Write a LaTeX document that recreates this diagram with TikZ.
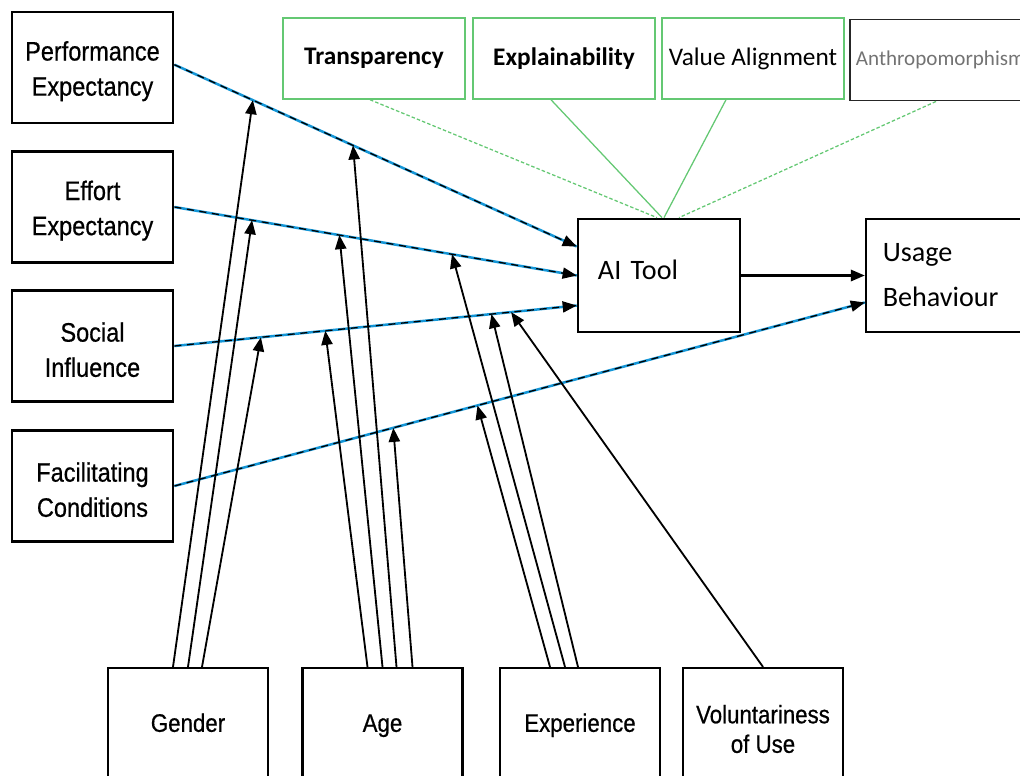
\documentclass[tikz,border=0pt]{standalone}
\usepackage{fontspec}
\usepackage{xcolor}
\usetikzlibrary{arrows.meta,calc}

\newfontfamily\arialn[FakeStretch=0.88,FakeBold=0.6]{Liberation Sans}
\newfontfamily\calib{Carlito}

\definecolor{linkblue}{RGB}{20,150,215}
\definecolor{framegreen}{RGB}{100,200,115}

\tikzset{
  construct/.style={draw, line width=1.8pt, minimum width=4.03cm, minimum height=2.78cm,
    inner sep=0pt, align=center, text height=44pt, font=\arialn\fontsize{19}{25}\selectfont},
  botbox/.style={draw, line width=1.5pt, minimum width=4cm, minimum height=3.05cm,
    inner sep=0pt, align=center, font=\arialn\fontsize{18}{21}\selectfont},
  moderator/.style={botbox, text height=13pt, text depth=9pt},
  factor/.style={draw=framegreen, line width=0.9pt, minimum width=4.55cm, minimum height=2.03cm,
    inner sep=0pt, font=\calib\fontsize{18}{22}\selectfont},
  outcome/.style={draw, line width=1.8pt, minimum height=2.83cm, inner ysep=0pt,
    align=left, font=\calib\fontsize{20}{32}\selectfont},
  mainpath/.style={->, draw=black, line width=0.9pt, dash pattern=on 5pt off 4pt,
    preaction={draw=linkblue, line width=1.8pt, solid, -}},
  modarrow/.style={->, line width=1.3pt},
  trustlink/.style={draw=framegreen, line width=0.9pt}
}

\begin{document}
\begin{tikzpicture}[x=0.025cm, y=-0.025cm, >={Triangle[length=10pt,width=8pt]}]
    \useasboundingbox (0,0) rectangle (1020,776);
    \clip (0,0) rectangle (1020,776);

    % Constructs on the left
    \node[construct] (PE) at (92.5,67.5) {Performance\\Expectancy};
    \node[construct] (EE) at (92.5,207) {Effort\\Expectancy};
    \node[construct] (SI) at (92.5,346) {Social\\Influence};
    \node[construct] (FC) at (92.5,486) {Facilitating\\Conditions};

    % Trust factors on top
    \node[factor, font=\calib\bfseries\fontsize{18}{22}\selectfont] (TR) at (374,58.5) {Transparency};
    \node[factor, font=\calib\bfseries\fontsize{18}{22}\selectfont] (EX) at (564,58.5) {Explainability};
    \node[factor] (VA) at (753,58.5) {Value Alignment};
    \node[factor, draw=black!85, line width=1.2pt, minimum width=4.75cm, text width=4.45cm,
      align=left, text=black!55, font=\calib\fontsize{15}{18}\selectfont] (AN) at (945,60) {Anthropomorphism};

    % AI tool and outcome
    \node[outcome, text width=3.05cm, inner xsep=0.5cm, text depth=8pt] (AI) at (659,275.5) {AI Tool};
    \node[outcome, text width=3.63cm, inner xsep=0.42cm] (UB) at (955.5,275.5) {Usage\\Behaviour};

    % Moderators at the bottom
    \node[moderator] (G) at (188,729) {Gender};
    \node[moderator] (A) at (382.5,729) {Age};
    \node[moderator] (X) at (580,729) {Experience};
    \node[botbox] (V) at (763,729) {Voluntariness\\of Use};

    % End points on AI Tool and Usage Behaviour
    \coordinate (ai-pe) at ($(AI.west)+(0,-29)$);
    \coordinate (ai-ee) at (AI.west);
    \coordinate (ai-si) at ($(AI.west)+(0,30)$);
    \coordinate (ub-fc) at ($(UB.west)+(0,27)$);

    % Main paths
    \draw[mainpath] ([yshift=2pt]PE.east) -- (ai-pe);
    \draw[mainpath] (EE.east) -- (ai-ee);
    \draw[mainpath] (SI.east) -- (ai-si);
    \draw[mainpath] (FC.east) -- (ub-fc);
    \draw[->, line width=1.8pt] (AI.east) -- (UB.west);

    % Trust factors into AI Tool
    \draw[trustlink, dash pattern=on 2.5pt off 1.5pt] ($(TR.south)+(-4,0)$) -- ($(AI.north)+(-2,0)$);
    \draw[trustlink] ($(EX.south)+(-13,0)$) -- ($(AI.north)+(3,0)$);
    \draw[trustlink] ($(VA.south)+(-27,0)$) -- ($(AI.north)+(5,0)$);
    \draw[trustlink, dash pattern=on 2.5pt off 1.5pt] ($(AN.south)+(-9,0)$) -- ($(AI.north)+(20,0)$);

    % Points where moderators meet the paths
    \coordinate (pe-g) at ($([yshift=2pt]PE.east)!0.195!(ai-pe)$);
    \coordinate (pe-a) at ($([yshift=2pt]PE.east)!0.444!(ai-pe)$);
    \coordinate (ee-g) at ($(EE.east)!0.193!(ai-ee)$);
    \coordinate (ee-a) at ($(EE.east)!0.41!(ai-ee)$);
    \coordinate (ee-x) at ($(EE.east)!0.69!(ai-ee)$);
    \coordinate (si-g) at ($(SI.east)!0.215!(ai-si)$);
    \coordinate (si-a) at ($(SI.east)!0.375!(ai-si)$);
    \coordinate (si-x) at ($(SI.east)!0.788!(ai-si)$);
    \coordinate (si-v) at ($(SI.east)!0.837!(ai-si)$);
    \coordinate (fc-a) at ($(FC.east)!0.317!(ub-fc)$);
    \coordinate (fc-x) at ($(FC.east)!0.439!(ub-fc)$);

    % Gender
    \draw[modarrow] ($(G.north)+(-15,0)$) -- (pe-g);
    \draw[modarrow] (G.north) -- (ee-g);
    \draw[modarrow] ($(G.north)+(14,0)$) -- (si-g);

    % Age
    \draw[modarrow] ($(A.north)+(-15,0)$) -- (si-a);
    \draw[modarrow] (A.north) -- (ee-a);
    \draw[modarrow] ($(A.north)+(14,0)$) -- (pe-a);
    \draw[modarrow] ($(A.north)+(30,0)$) -- (fc-a);

    % Experience
    \draw[modarrow] ($(X.north)+(-30,0)$) -- (fc-x);
    \draw[modarrow] ($(X.north)+(-15,0)$) -- (ee-x);
    \draw[modarrow] ($(X.north)+(-2,0)$) -- (si-x);

    % Voluntariness of use
    \draw[modarrow] (V.north) -- (si-v);
\end{tikzpicture}
\end{document}
